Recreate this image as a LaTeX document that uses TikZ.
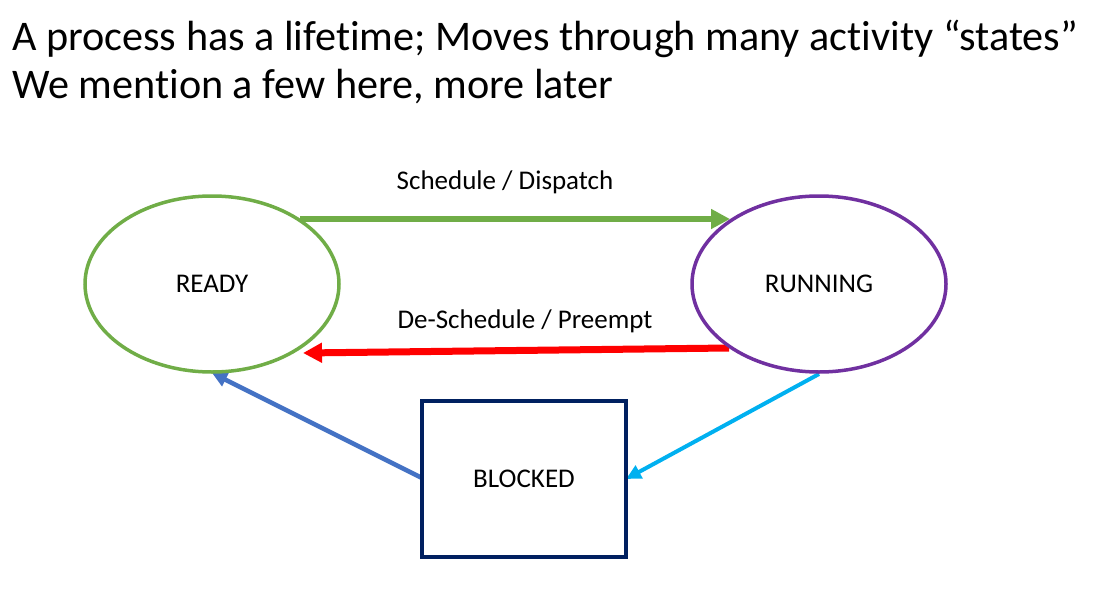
\documentclass[tikz,border=0pt]{standalone}
\usepackage{fontspec}
\setmainfont[Ligatures=NoCommon]{Carlito}
\usetikzlibrary{arrows.meta,shapes.geometric}
\definecolor{rgreen}{HTML}{70AD47}
\definecolor{rpurple}{HTML}{7030A0}
\definecolor{rred}{HTML}{FF0000}
\definecolor{rblue}{HTML}{4472C4}
\definecolor{rcyan}{HTML}{00B0F0}
\definecolor{rnavy}{HTML}{002060}
\tikzset{
  statebox/.style={ellipse, line width=3.5pt, minimum width=254pt, minimum height=176pt, inner sep=0pt, font=\fontsize{27}{32}\selectfont},
  title/.style={anchor=base west, inner sep=0pt, font=\fontsize{42.2}{50}\selectfont},
  lbl/.style={inner sep=0pt, font=\fontsize{27}{32}\selectfont},
  bigarr/.style={-{Triangle[length=19pt,width=19pt]}},
  smallarr/.style={-{Triangle[length=15pt,width=14pt]}},
}
\begin{document}
\begin{tikzpicture}[x=1pt,y=-1pt]
\useasboundingbox (0,0) rectangle (1116,594);
\node[title] (t1) at (12,51) {A process has a lifetime; Moves through many activity “states”};
\node[title] (t2) at (12,99) {We mention a few here, more later};
\coordinate (g1) at (300,219);
\coordinate (g2) at (730,219);
\coordinate (r1) at (729,348);
\coordinate (r2) at (303,353);
\coordinate (b1) at (422,478);
\coordinate (b2) at (212,373);
\coordinate (c1) at (819,374);
\coordinate (c2) at (626,479);
\draw[bigarr, rgreen, line width=6pt] (g1) -- (g2);
\draw[bigarr, rred, line width=7pt] (r1) -- (r2);
\draw[smallarr, rblue, line width=4.5pt] (b1) -- (b2);
\draw[smallarr, rcyan, line width=4pt] (c1) -- (c2);
\node[statebox, draw=rgreen] (ready) at (212,284) {READY};
\node[statebox, draw=rpurple] (running) at (819,284) {RUNNING};
\node[draw=rnavy, line width=4pt, minimum width=204pt, minimum height=156pt, inner sep=0pt, font=\fontsize{27}{32}\selectfont] (blocked) at (524,479) {BLOCKED};
\node[lbl] (l1) at (505,182) {Schedule / Dispatch};
\node[lbl] (l2) at (525,321) {De-Schedule / Preempt};
\end{tikzpicture}
\end{document}
